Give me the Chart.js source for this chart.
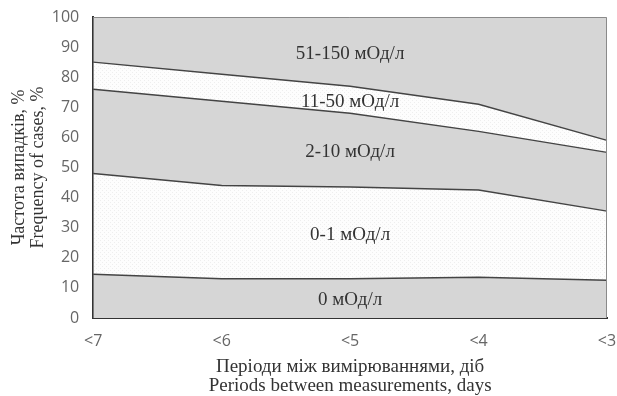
<!DOCTYPE html>
<html>
<head>
<meta charset="utf-8">
<script src="https://cdn.jsdelivr.net/npm/chart.js@4"></script>
<style>
    html, body { margin: 0; padding: 0; background: #fff; }
    #wrap { width: 617px; height: 396px; }
</style>
</head>
<body>
<div id="wrap"><canvas id="freqChart"></canvas></div>
<script>
// periods between measurements (days)
const periods = ['<7', '<6', '<5', '<4', '<3'];

// share of cases per activity band, % (stacked)
const band0 = [14.5, 13, 13, 13.5, 12.5];       // 0 мОд/л
const band0to1 = [33.5, 31, 30.5, 29, 23];      // 0-1 мОд/л
const band2to10 = [28, 28, 24.5, 19.5, 19.5];   // 2-10 мОд/л
const band11to50 = [9, 9, 9, 9, 4];             // 11-50 мОд/л
const band51to150 = [15, 19, 23, 29, 41];       // 51-150 мОд/л

const bandNames = ['0 мОд/л', '0-1 мОд/л', '2-10 мОд/л', '11-50 мОд/л', '51-150 мОд/л'];
const yTicks = [0, 10, 20, 30, 40, 50, 60, 70, 80, 90, 100];

// faint dotted fill for the light bands
function dotPattern() {
    const c = document.createElement('canvas');
    c.width = 4; c.height = 4;
    const g = c.getContext('2d');
    g.fillStyle = '#fdfdfd';
    g.fillRect(0, 0, 4, 4);
    g.fillStyle = '#eeeeee';
    g.fillRect(0, 0, 1, 1);
    g.fillRect(2, 2, 1, 1);
    return g.createPattern(c, 'repeat');
}

const grey = '#d6d6d6';
const dots = dotPattern();
const lineColor = '#444444';

const series = [band0, band0to1, band2to10, band11to50, band51to150];
const fills = [grey, dots, grey, dots, grey];

const datasets = series.map((values, i) => ({
    label: bandNames[i],
    data: values,
    backgroundColor: fills[i],
    borderColor: lineColor,
    borderWidth: i === series.length - 1 ? 0 : 1.4,
    pointRadius: 0,
    tension: 0,
    fill: i === 0 ? 'origin' : '-1'
}));

// band names written in the middle of each band, over the "<5" column
const bandLabelsPlugin = {
    id: 'bandLabels',
    afterDatasetsDraw(chart) {
        const { ctx, scales } = chart;
        const col = 2;
        ctx.save();
        ctx.font = '19px "Liberation Serif", "DejaVu Serif", serif';
        ctx.fillStyle = '#333333';
        ctx.textAlign = 'center';
        ctx.textBaseline = 'middle';
        let base = 0;
        series.forEach((values, i) => {
            const mid = base + values[col] / 2;
            base += values[col];
            ctx.fillText(bandNames[i], scales.x.getPixelForValue(col), scales.y.getPixelForValue(mid) + 2);
        });
        ctx.restore();
    }
};

// thin frame on top and right of the plot area
const framePlugin = {
    id: 'frame',
    afterDatasetsDraw(chart) {
        const { ctx, chartArea: a } = chart;
        ctx.save();
        ctx.strokeStyle = '#8a8a8a';
        ctx.lineWidth = 1;
        ctx.beginPath();
        ctx.moveTo(a.left, a.top + 0.5);
        ctx.lineTo(a.right - 0.5, a.top + 0.5);
        ctx.lineTo(a.right - 0.5, a.bottom);
        ctx.stroke();
        ctx.restore();
    }
};

new Chart(document.getElementById('freqChart'), {
    type: 'line',
    data: { labels: periods, datasets: datasets },
    options: {
        responsive: true,
        maintainAspectRatio: false,
        animation: false,
        layout: { padding: { top: 17, right: 10, left: 2, bottom: 1 } },
        plugins: {
            legend: { display: false },
            tooltip: { enabled: false }
        },
        scales: {
            x: {
                offset: false,
                grid: { display: false },
                border: { display: true, color: '#333333', width: 2 },
                // let the last label hang past the plot edge like the original
                afterFit: (axis) => { axis.paddingRight = 0; },
                ticks: {
                    color: '#666666',
                    padding: 6,
                    maxRotation: 0,
                    font: { family: '"Open Sans", sans-serif', size: 16 }
                },
                title: {
                    display: true,
                    text: ['Періоди між вимірюваннями, діб', 'Periods between measurements, days'],
                    color: '#333333',
                    padding: { top: 1, bottom: 0 },
                    font: { family: '"Liberation Serif", serif', size: 19, lineHeight: 0.97 }
                }
            },
            y: {
                stacked: true,
                min: 0,
                max: 100,
                grid: { display: false },
                border: { display: true, color: '#333333', width: 2 },
                afterFit: (axis) => { axis.paddingTop = 0; axis.paddingBottom = 0; },
                afterBuildTicks: (axis) => { axis.ticks = yTicks.map(v => ({ value: v })); },
                ticks: {
                    color: '#666666',
                    padding: 6,
                    font: { family: '"Open Sans", sans-serif', size: 16 }
                },
                title: {
                    display: true,
                    text: ['Частота випадків, %', 'Frequency of cases, %'],
                    color: '#333333',
                    padding: { top: 8, bottom: -2 },
                    font: { family: '"Liberation Serif", serif', size: 18, lineHeight: 1.05 }
                }
            }
        }
    },
    plugins: [bandLabelsPlugin, framePlugin]
});
</script>
</body>
</html>
